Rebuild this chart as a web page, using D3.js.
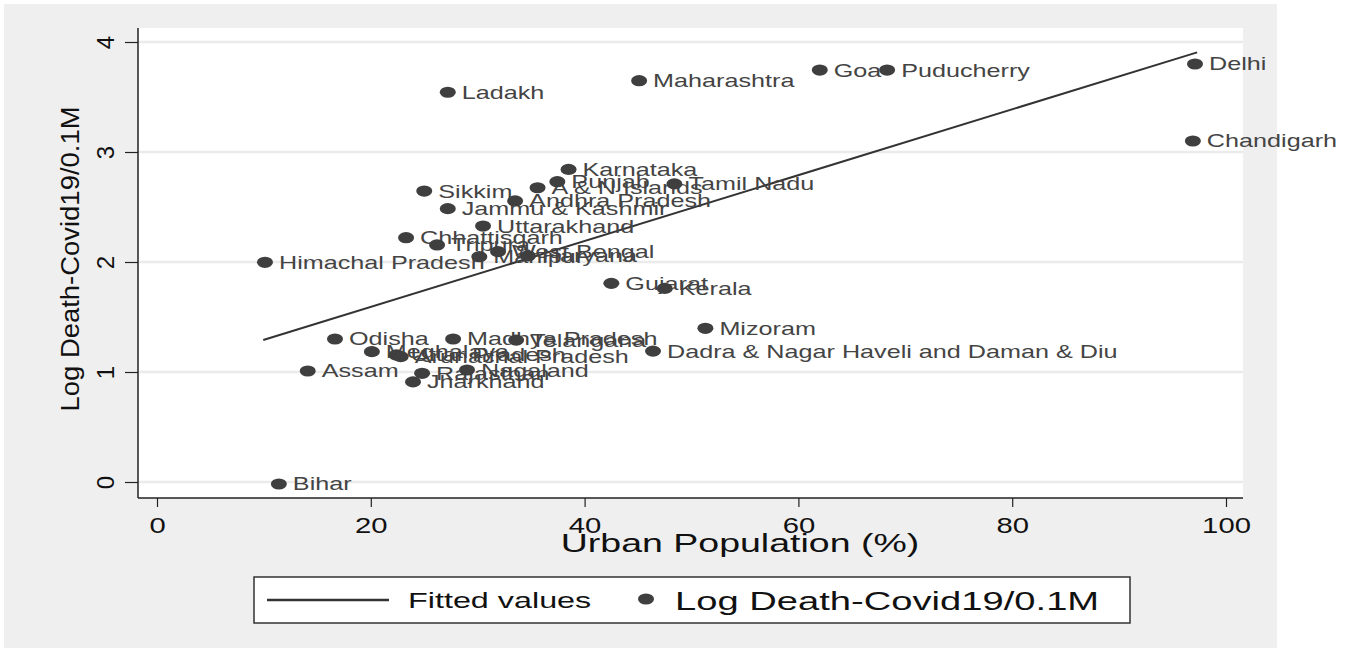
<!DOCTYPE html>
<html>
<head>
<meta charset="utf-8">
<script src="https://cdn.jsdelivr.net/npm/d3@7"></script>
<style>
  body { margin: 0; background: #fff; }
  text { font-family: "Liberation Sans", Arial, sans-serif; }
</style>
</head>
<body>
<div id="scatter"></div>
<script>
// states, urban population (%) and log deaths per 0.1M
var states = ["Delhi", "Chandigarh", "Goa", "Puducherry", "Maharashtra", "Ladakh",
  "Karnataka", "Punjab", "A & N Islands", "Tamil Nadu", "Sikkim", "Andhra Pradesh",
  "Jammu & Kashmir", "Uttarakhand", "Chhattisgarh", "Tripura", "Himachal Pradesh",
  "Manipur", "West Bengal", "Haryana", "Gujarat", "Kerala", "Mizoram",
  "Dadra & Nagar Haveli and Daman & Diu", "Odisha", "Madhya Pradesh", "Telangana",
  "Meghalaya", "Uttar Pradesh", "Arunachal Pradesh", "Assam", "Rajasthan",
  "Nagaland", "Jharkhand", "Bihar"];
var urban = [97.1, 96.9, 62.0, 68.3, 45.1, 27.2,
  38.5, 37.45, 35.6, 48.4, 25.0, 33.5,
  27.2, 30.5, 23.3, 26.2, 10.1,
  30.15, 31.9, 34.7, 42.5, 47.5, 51.3,
  46.4, 16.65, 27.7, 33.6,
  20.1, 22.4, 22.8, 14.1, 24.8,
  29.0, 23.95, 11.4];
var logDeath = [3.80, 3.10, 3.745, 3.745, 3.648, 3.543,
  2.842, 2.73, 2.675, 2.71, 2.645, 2.555,
  2.485, 2.327, 2.221, 2.155, 1.997,
  2.048, 2.094, 2.055, 1.806, 1.76, 1.397,
  1.19, 1.30, 1.30, 1.29,
  1.185, 1.155, 1.14, 1.009, 0.988,
  1.018, 0.91, -0.018];

// fitted line end points
var fitX = [9.94, 97.3];
var fitY = [1.291, 3.906];

var xTicks = [0, 20, 40, 60, 80, 100];
var yTicks = [0, 1, 2, 3, 4];

var width = 1354, height = 651;
var plot = {left: 138, right: 1243, top: 28, bottom: 498};
var dark = "#3f3f3f";

var svg = d3.select("#scatter").append("svg")
    .attr("width", width)
    .attr("height", height);

// grey outer background and white plot region
svg.append("rect").attr("x", 4).attr("y", 4).attr("width", 1273).attr("height", 644)
    .attr("fill", "#efefef");
svg.append("rect").attr("x", plot.left).attr("y", plot.top)
    .attr("width", plot.right - plot.left).attr("height", plot.bottom - plot.top)
    .attr("fill", "#fff");

var x = d3.scaleLinear().domain([0, 100]).range([157, 1226]);
var y = d3.scaleLinear().domain([0, 4]).range([482, 42]);

// grid
svg.append("g").selectAll("line")
  .data(yTicks)
  .enter().append("line")
    .attr("x1", plot.left).attr("x2", plot.right)
    .attr("y1", function(d) { return y(d); })
    .attr("y2", function(d) { return y(d); })
    .attr("stroke", "#ebebeb")
    .attr("stroke-width", 2.5);

// y axis
var yAxis = svg.append("g")
    .attr("transform", "translate(" + plot.left + ",0)")
    .call(d3.axisLeft(y).tickValues(yTicks).tickFormat(d3.format("d"))
      .tickSize(13).tickSizeOuter(0));
yAxis.select(".domain").remove();
yAxis.selectAll(".tick line").attr("stroke", "#222").attr("stroke-width", 1.2);
yAxis.selectAll(".tick text")
    .attr("x", null).attr("dy", null)
    .attr("transform", "translate(-32,0) rotate(-90)")
    .attr("text-anchor", "middle")
    .attr("dy", "0.35em")
    .attr("fill", "#111")
    .style("font-size", "24px")
    .style("font-family", "Liberation Sans, Arial, sans-serif");

// x axis
var xAxis = svg.append("g")
    .attr("transform", "translate(0," + plot.bottom + ")")
    .call(d3.axisBottom(x).tickValues(xTicks).tickSize(9).tickSizeOuter(0));
xAxis.select(".domain").remove();
xAxis.selectAll(".tick line").attr("stroke", "#222").attr("stroke-width", 1.2);
xAxis.selectAll(".tick text")
    .attr("y", null).attr("dy", null)
    .attr("transform", "translate(0,35) scale(1.33,1)")
    .attr("fill", "#111")
    .style("font-size", "22px")
    .style("font-family", "Liberation Sans, Arial, sans-serif");

// axis lines
svg.append("line").attr("x1", plot.left).attr("x2", plot.left)
    .attr("y1", plot.top).attr("y2", plot.bottom)
    .attr("stroke", "#222").attr("stroke-width", 1.5);
svg.append("line").attr("x1", plot.left).attr("x2", plot.right)
    .attr("y1", plot.bottom).attr("y2", plot.bottom)
    .attr("stroke", "#222").attr("stroke-width", 1.5);

// axis titles
svg.append("text")
    .attr("transform", "translate(79,259) rotate(-90)")
    .attr("text-anchor", "middle")
    .attr("textLength", 305)
    .attr("lengthAdjust", "spacingAndGlyphs")
    .attr("fill", "#111")
    .style("font-size", "26px")
    .text("Log Death-Covid19/0.1M");

svg.append("text")
    .attr("transform", "translate(740,552) scale(1.5,1)")
    .attr("text-anchor", "middle")
    .attr("fill", "#111")
    .style("font-size", "25px")
    .text("Urban Population (%)");

// fitted line
var line = d3.line()
    .x(function(d) { return x(d); })
    .y(function(d, i) { return y(fitY[i]); });
svg.append("path")
    .datum(fitX)
    .attr("d", line)
    .attr("fill", "none")
    .attr("stroke", "#333")
    .attr("stroke-width", 2);

// labels then markers
svg.append("g").selectAll("text")
  .data(states)
  .enter().append("text")
    .attr("transform", function(d, i) {
      return "translate(" + (x(urban[i]) + 14) + "," + y(logDeath[i]) + ") scale(1.4,1)";
    })
    .attr("dy", "0.36em")
    .attr("fill", "#444")
    .style("font-size", "18px")
    .text(function(d) { return d; });

svg.append("g").selectAll("ellipse")
  .data(states)
  .enter().append("ellipse")
    .attr("cx", function(d, i) { return x(urban[i]); })
    .attr("cy", function(d, i) { return y(logDeath[i]); })
    .attr("rx", 8)
    .attr("ry", 5.6)
    .attr("fill", dark);

// legend
var legend = svg.append("g");
legend.append("rect")
    .attr("x", 254).attr("y", 577).attr("width", 876).attr("height", 46)
    .attr("fill", "#fff").attr("stroke", "#333").attr("stroke-width", 1.5);
legend.append("line")
    .attr("x1", 267).attr("x2", 389).attr("y1", 600).attr("y2", 600)
    .attr("stroke", "#333").attr("stroke-width", 2.5);
legend.append("text")
    .attr("transform", "translate(408,600) scale(1.47,1)")
    .attr("dy", "0.36em")
    .attr("fill", "#111")
    .style("font-size", "22px")
    .text("Fitted values");
legend.append("ellipse")
    .attr("cx", 646).attr("cy", 599).attr("rx", 8).attr("ry", 5.6)
    .attr("fill", dark);
legend.append("text")
    .attr("transform", "translate(675,600) scale(1.44,1)")
    .attr("dy", "0.36em")
    .attr("fill", "#111")
    .style("font-size", "26.5px")
    .text("Log Death-Covid19/0.1M");
</script>
</body>
</html>
